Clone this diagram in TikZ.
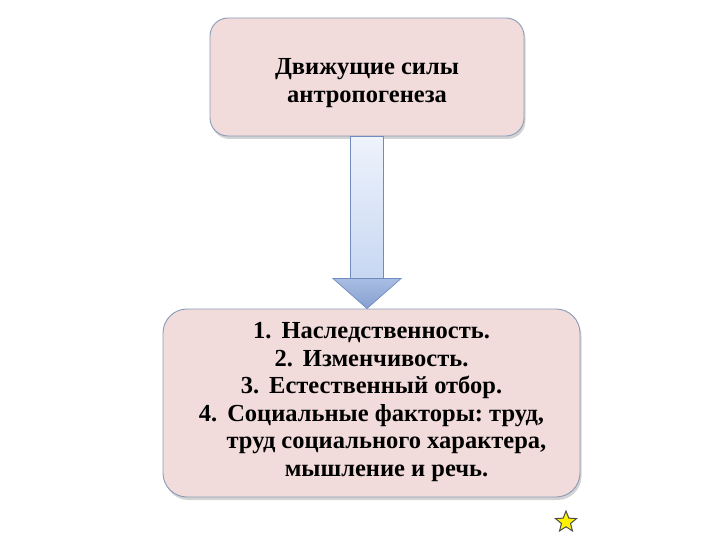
\documentclass[tikz,border=0pt]{standalone}
\usepackage{fontspec}
\setmainfont{Liberation Serif}
\usetikzlibrary{shapes.geometric,shadows,calc}
\frenchspacing
\definecolor{boxfill}{HTML}{F2DCDB}
\definecolor{boxline}{HTML}{8A9BB8}
\definecolor{arrline}{HTML}{6F8CC0}
\definecolor{arrtop}{HTML}{EEF3FC}
\definecolor{arrbot}{HTML}{C7D7F2}
\definecolor{headtop}{HTML}{A9BDE3}
\definecolor{headbot}{HTML}{86A0D0}
\newcommand{\numgap}{\hspace{10pt}}
\tikzset{
  box/.style={draw=boxline, line width=0.9pt, fill=boxfill, rounded corners=#1,
    drop shadow={opacity=0.35, shadow xshift=1.5pt, shadow yshift=-3pt}},
  txt/.style={font=\bfseries\fontsize{24.5}{27.5}\selectfont, align=center, inner sep=0pt},
  shaft/.style={draw=arrline, line width=0.7pt, top color=arrtop, bottom color=arrbot},
  head/.style={draw=arrline, line width=0.7pt, top color=headtop, bottom color=headbot},
}
\begin{document}
\begin{tikzpicture}[x=1pt,y=-1pt]
\useasboundingbox (0,0) rectangle (720,540);
\node[box=18pt, minimum width=314pt, minimum height=118pt] (top) at (367,77) {};
\node[txt] (toptext) at ([yshift=-6pt]top.center) {Движущие силы\\антропогенеза};
\node[box=24pt, minimum width=417pt, minimum height=188pt] (bot) at (371.5,403) {};
\node[txt] (bottext) at ([yshift=1pt]bot.center)
  {1.\numgap Наследственность.\\
   2.\numgap Изменчивость.\\
   3.\numgap Естественный отбор.\\
   4.\numgap Социальные факторы: труд,\\
   \hspace*{30pt}труд социального характера,\\
   \hspace*{30pt}мышление и речь.};
\path let \p1=(top.south), \p2=(bot.north) in
  coordinate (s1) at ({\x1-16.5pt},\y1)
  coordinate (s2) at ({\x1+16.5pt},\y1)
  coordinate (s3) at ({\x1+16.5pt},{\y2+30pt})
  coordinate (s4) at ({\x1-16.5pt},{\y2+30pt})
  coordinate (h1) at ({\x1-34pt},{\y2+30pt})
  coordinate (h2) at ({\x1+34pt},{\y2+30pt})
  coordinate (tip) at (\x1,\y2);
\draw[shaft] (s4) -- (s1) -- (s2) -- (s3);
\draw[head] (h1) -- (s4) -- (s3) -- (h2) -- (tip) -- cycle;
\node[star, star points=5, star point ratio=2.3, draw=black!70, line width=1pt,
  fill=yellow, minimum size=22pt, inner sep=0pt] (star) at (566,522) {};
\end{tikzpicture}
\end{document}
